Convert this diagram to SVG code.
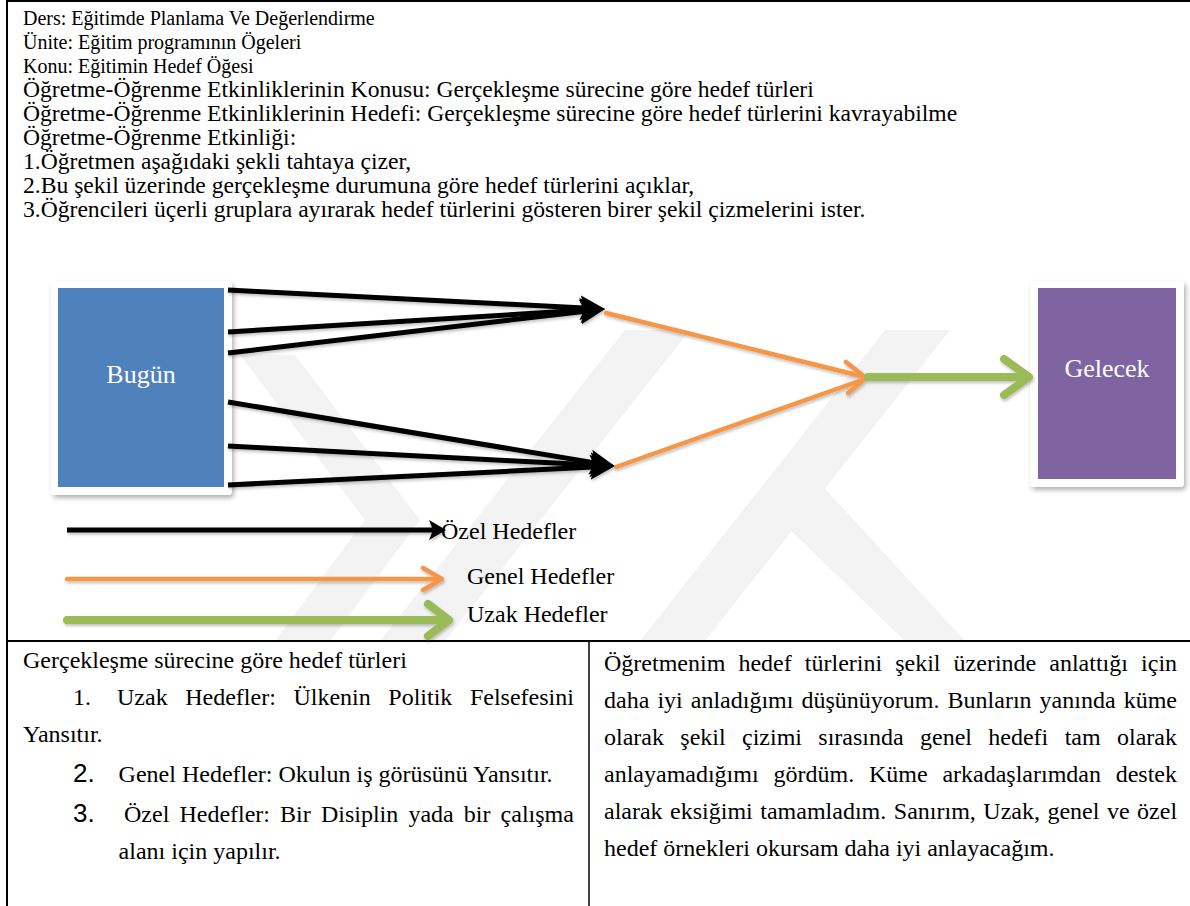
<svg xmlns="http://www.w3.org/2000/svg" width="1190" height="906" viewBox="0 0 1190 906">
<style>
.t{font-family:"Liberation Serif","Times New Roman",serif;fill:#000}
.top{font-size:20px}
.top2{font-size:23.6px}
.b{font-size:24px}
.num{font-family:"Liberation Sans",Arial,sans-serif;font-size:26px;fill:#000}
.nodet{font-family:"Liberation Serif","Times New Roman",serif;font-size:26px;fill:#fff;text-anchor:middle}
.frame{fill:#fff;filter:url(#sh)}
.blk{stroke:#000;stroke-width:5;fill:none;marker-end:url(#stealth)}
.org{stroke:#f79646;stroke-width:4.5;fill:none;stroke-linecap:round;stroke-linejoin:round}
.grn{stroke:#9bbb59;stroke-width:8;fill:none;stroke-linecap:round;stroke-linejoin:round}
.rule{stroke:#000;stroke-width:2;fill:none}
.wm{fill:#f3f3f3}
</style>
<defs>
<filter id="sh" x="-15%" y="-15%" width="140%" height="140%">
<feDropShadow dx="2" dy="3" stdDeviation="2.5" flood-color="#000" flood-opacity="0.3"/>
</filter>
<filter id="lsh" x="-5%" y="-30%" width="110%" height="160%">
<feDropShadow dx="1" dy="2" stdDeviation="1.5" flood-color="#000" flood-opacity="0.25"/>
</filter>
<marker id="stealth" markerUnits="userSpaceOnUse" markerWidth="30" markerHeight="30" viewBox="0 -15 30 30" refX="14" refY="0" orient="auto">
<path d="M0,-12.5 L25,0 L0,12.5 L5,0 Z" fill="#000"/>
</marker>
</defs>
<rect width="1190" height="906" fill="#fff"/>
<g id="watermark">
<polygon class="wm" points="240,355 295,355 420,520 330,641 275,641 365,520"/>
<polygon class="wm" points="380,641 445,641 690,330 625,330"/>
<polygon class="wm" points="640,641 705,641 950,330 885,330"/>
<polygon class="wm" points="780,520 815,478 965,641 905,641"/>
</g>
<g id="frame-lines">
<line class="rule" x1="7" y1="1" x2="1190" y2="1"/>
<line class="rule" x1="7" y1="0" x2="7" y2="906"/>
<line class="rule" x1="7" y1="641" x2="1190" y2="641"/>
<line x1="589" y1="641" x2="589" y2="906" stroke="#000" stroke-width="1.5"/>
</g>
<g id="header-text" class="t">
<text class="top" x="23" y="25">Ders: Eğitimde Planlama Ve Değerlendirme</text>
<text class="top" x="23" y="49">Ünite: Eğitim programının Ögeleri</text>
<text class="top" x="23" y="73">Konu: Eğitimin Hedef Öğesi</text>
<text class="top2" x="23" y="97">Öğretme-Öğrenme Etkinliklerinin Konusu: Gerçekleşme sürecine göre hedef türleri</text>
<text class="top2" x="23" y="121">Öğretme-Öğrenme Etkinliklerinin Hedefi: Gerçekleşme sürecine göre hedef türlerini kavrayabilme</text>
<text class="top2" x="23" y="145">Öğretme-Öğrenme Etkinliği:</text>
<text class="top2" x="23" y="169">1.Öğretmen aşağıdaki şekli tahtaya çizer,</text>
<text class="top2" x="23" y="193">2.Bu şekil üzerinde gerçekleşme durumuna göre hedef türlerini açıklar,</text>
<text class="top2" x="23" y="217">3.Öğrencileri üçerli gruplara ayırarak hedef türlerini gösteren birer şekil çizmelerini ister.</text>
</g>
<g id="node-bugun">
<rect class="frame" x="51" y="281" width="181" height="214" rx="4"/>
<rect x="58" y="288" width="166" height="199" fill="#4f81bd"/>
<text class="nodet" x="141" y="383">Bugün</text>
</g>
<g id="node-gelecek">
<rect class="frame" x="1030" y="281" width="154" height="206" rx="4"/>
<rect x="1038" y="288" width="138" height="191" fill="#8064a2"/>
<text class="nodet" x="1107" y="377">Gelecek</text>
</g>
<g id="connectors" filter="url(#lsh)">
<line class="blk" x1="228" y1="290" x2="594" y2="308.5"/>
<line class="blk" x1="228" y1="332" x2="594" y2="309.6"/>
<line class="blk" x1="228" y1="353" x2="594.1" y2="310.2"/>
<line class="blk" x1="228" y1="402" x2="604.1" y2="464.4"/>
<line class="blk" x1="228" y1="446" x2="604" y2="465.5"/>
<line class="blk" x1="228" y1="485" x2="604" y2="466.5"/>
<line class="org" x1="606" y1="313" x2="865" y2="377"/>
<line class="org" x1="616" y1="467" x2="865" y2="379"/>
<polyline class="org" points="846,362 866,378 848,393"/>
<line class="grn" x1="868" y1="377" x2="1028" y2="377"/>
<polyline class="grn" points="1004,359 1029,377 1004,395"/>
</g>
<g id="legend">
<g filter="url(#lsh)">
<line x1="67" y1="530" x2="436" y2="530" stroke="#000" stroke-width="5"/>
<path d="M429,520 L446,530 L429,540 L433,530 Z" fill="#000"/>
<line class="org" x1="67" y1="579" x2="440" y2="579" stroke-width="5"/>
<polyline class="org" points="423,568 442,579 423,590" stroke-width="5"/>
<line class="grn" x1="67" y1="620" x2="446" y2="620"/>
<polyline class="grn" points="428,604 449,620 428,636"/>
</g>
<text class="t b" x="441" y="539">Özel Hedefler</text>
<text class="t b" x="467" y="584">Genel Hedefler</text>
<text class="t b" x="467" y="622">Uzak Hedefler</text>
</g>
<g id="cell-left" class="t b">
<text x="23" y="668">Gerçekleşme sürecine göre hedef türleri</text>
<text y="705"><tspan x="73">1.</tspan><tspan x="117">Uzak</tspan><tspan x="185.2">Hedefler:</tspan><tspan x="293.4">Ülkenin</tspan><tspan x="388.3">Politik</tspan><tspan x="469.9">Felsefesini</tspan></text>
<text x="23" y="742">Yansıtır.</text>
<text class="num" x="73" y="782">2.</text>
<text x="118.6" y="782">Genel Hedefler: Okulun iş görüsünü Yansıtır.</text>
<text class="num" x="73" y="822">3.</text>
<text y="822"><tspan x="124">Özel</tspan><tspan x="179.4">Hedefler:</tspan><tspan x="280.1">Bir</tspan><tspan x="320.9">Disiplin</tspan><tspan x="408.4">yada</tspan><tspan x="463.8">bir</tspan><tspan x="500.6">çalışma</tspan></text>
<text x="118.6" y="859">alanı için yapılır.</text>
</g>
<g id="cell-right" class="t b">
<text y="671"><tspan x="604">Öğretmenim</tspan><tspan x="738.4">hedef</tspan><tspan x="804.8">türlerini</tspan><tspan x="895.2">şekil</tspan><tspan x="953.6">üzerinde</tspan><tspan x="1049.3">anlattığı</tspan><tspan x="1141.1">için</tspan></text>
<text y="708"><tspan x="604">daha</tspan><tspan x="657.4">iyi</tspan><tspan x="690.8">anladığımı</tspan><tspan x="801.5">düşünüyorum.</tspan><tspan x="947.6">Bunların</tspan><tspan x="1039.6">yanında</tspan><tspan x="1123.7">küme</tspan></text>
<text y="745"><tspan x="604">olarak</tspan><tspan x="680.3">şekil</tspan><tspan x="742">çizimi</tspan><tspan x="818.3">sırasında</tspan><tspan x="920">genel</tspan><tspan x="988.3">hedefi</tspan><tspan x="1064.7">tam</tspan><tspan x="1117">olarak</tspan></text>
<text y="782"><tspan x="604">anlayamadığımı</tspan><tspan x="773.5">gördüm.</tspan><tspan x="868.9">Küme</tspan><tspan x="942.4">arkadaşlarımdan</tspan><tspan x="1115.7">destek</tspan></text>
<text y="819"><tspan x="604">alarak</tspan><tspan x="670.1">eksiğimi</tspan><tspan x="760.3">tamamladım.</tspan><tspan x="893.8">Sanırım,</tspan><tspan x="983.3">Uzak,</tspan><tspan x="1047.4">genel</tspan><tspan x="1106.9">ve</tspan><tspan x="1137.1">özel</tspan></text>
<text x="604" y="856">hedef örnekleri okursam daha iyi anlayacağım.</text>
</g>
</svg>
